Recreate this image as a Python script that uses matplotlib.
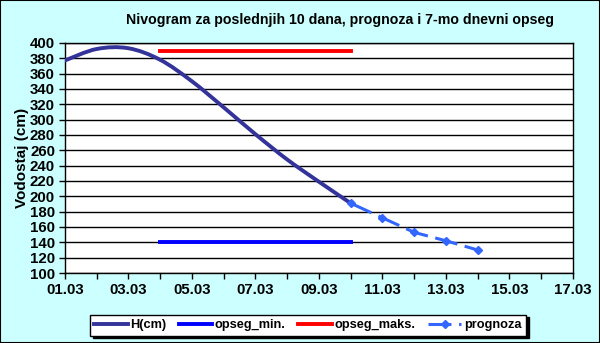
import matplotlib
matplotlib.use("Agg")
import matplotlib.pyplot as plt
from matplotlib.path import Path
from matplotlib.patches import PathPatch, Rectangle
from matplotlib.lines import Line2D
import numpy as np

plt.rcParams['font.family'] = ['Liberation Sans', 'DejaVu Sans']

# podaci (dan u martu)
h_days = [1, 2, 3, 4, 5, 6, 7, 8, 9, 10]
h_vals = [377, 392, 393, 378, 350, 316, 281, 248, 219, 191]
prog_days = [10, 11, 12, 13, 14]
prog_vals = [191, 172, 153, 142, 130]
opseg_days = [4, 10]
opseg_min = [140, 140]
opseg_maks = [390, 390]
x_ticks = [1, 3, 5, 7, 9, 11, 13, 15, 17]
x_labels = ["01.03", "03.03", "05.03", "07.03", "09.03", "11.03", "13.03", "15.03", "17.03"]


def smooth_path(xs, ys):
    # bezier kao "smoothed line" u Excelu
    p = np.column_stack([xs, ys]).astype(float)
    pts = np.vstack([p[0], p, p[-1]])
    verts = [tuple(p[0])]
    codes = [Path.MOVETO]
    for i in range(1, len(pts) - 2):
        c1 = pts[i] + (pts[i + 1] - pts[i - 1]) / 6
        c2 = pts[i + 1] - (pts[i + 2] - pts[i]) / 6
        verts += [tuple(c1), tuple(c2), tuple(pts[i + 1])]
        codes += [Path.CURVE4] * 3
    return Path(verts, codes)


fig = plt.figure(figsize=(6, 3.43), dpi=100, facecolor='#CCFFFF')
ax = fig.add_axes([0.108, 0.204, 0.847, 0.671])
ax.set_facecolor('white')

ax.set_xlim(1, 17)
ax.set_ylim(100, 400)
ax.set_yticks(range(100, 401, 20))
ax.yaxis.grid(True, color='black', linewidth=1)
ax.set_axisbelow(True)
ax.set_xticks(x_ticks)
ax.set_xticklabels(x_labels)
ax.set_xticks(range(1, 18), minor=True)
ax.tick_params(axis='both', which='major', direction='out', length=4,
               width=1, labelsize=10.8, pad=3)
ax.tick_params(axis='x', which='minor', direction='out', length=4, width=1)
for lab in ax.get_xticklabels() + ax.get_yticklabels():
    lab.set_fontweight('bold')
for s in ax.spines.values():
    s.set_linewidth(1)
    s.set_color('black')

ax.add_patch(PathPatch(smooth_path(h_days, h_vals), facecolor='none',
                       edgecolor='#333399', linewidth=2.8, capstyle='round', zorder=3))
ax.plot(opseg_days, opseg_min, color='#0000FF', linewidth=2.8, zorder=3)
ax.plot(opseg_days, opseg_maks, color='#FF0000', linewidth=2.8, zorder=3)
ax.plot(prog_days, prog_vals, color='#3366FF', linewidth=2.2, dashes=(7.5, 2.5),
        marker='D', markersize=4, zorder=4)

ax.set_ylabel('Vodostaj (cm)', fontsize=11, fontweight='bold', labelpad=1)
fig.text(0.567, 0.942, 'Nivogram za poslednjih 10 dana, prognoza i 7-mo dnevni opseg',
         ha='center', va='center', fontsize=10.2, fontweight='bold')

handles = [
    Line2D([], [], color='#333399', linewidth=2.8),
    Line2D([], [], color='#0000FF', linewidth=2.8),
    Line2D([], [], color='#FF0000', linewidth=2.8),
    Line2D([], [], color='#3366FF', linewidth=2.2, dashes=(7.5, 2.5), marker='D', markersize=4),
]
leg = fig.legend(handles, ['H(cm)', 'opseg_min.', 'opseg_maks.', 'prognoza'],
                 loc='center', bbox_to_anchor=(0.513, 0.052), ncol=4,
                 frameon=True, fancybox=False, shadow={'color': 'black', 'alpha': 1},
                 edgecolor='black', facecolor='white', framealpha=1,
                 prop={'size': 9.2, 'weight': 'bold'}, handlelength=2.6,
                 handletextpad=0.2, columnspacing=1.0, borderpad=0.35)
leg.get_frame().set_linewidth(1)

fig.patches.append(Rectangle((0, 0), 1, 1, transform=fig.transFigure, fill=False,
                             edgecolor='black', linewidth=1.5))

fig.savefig('out.png', dpi=100, facecolor=fig.get_facecolor())
